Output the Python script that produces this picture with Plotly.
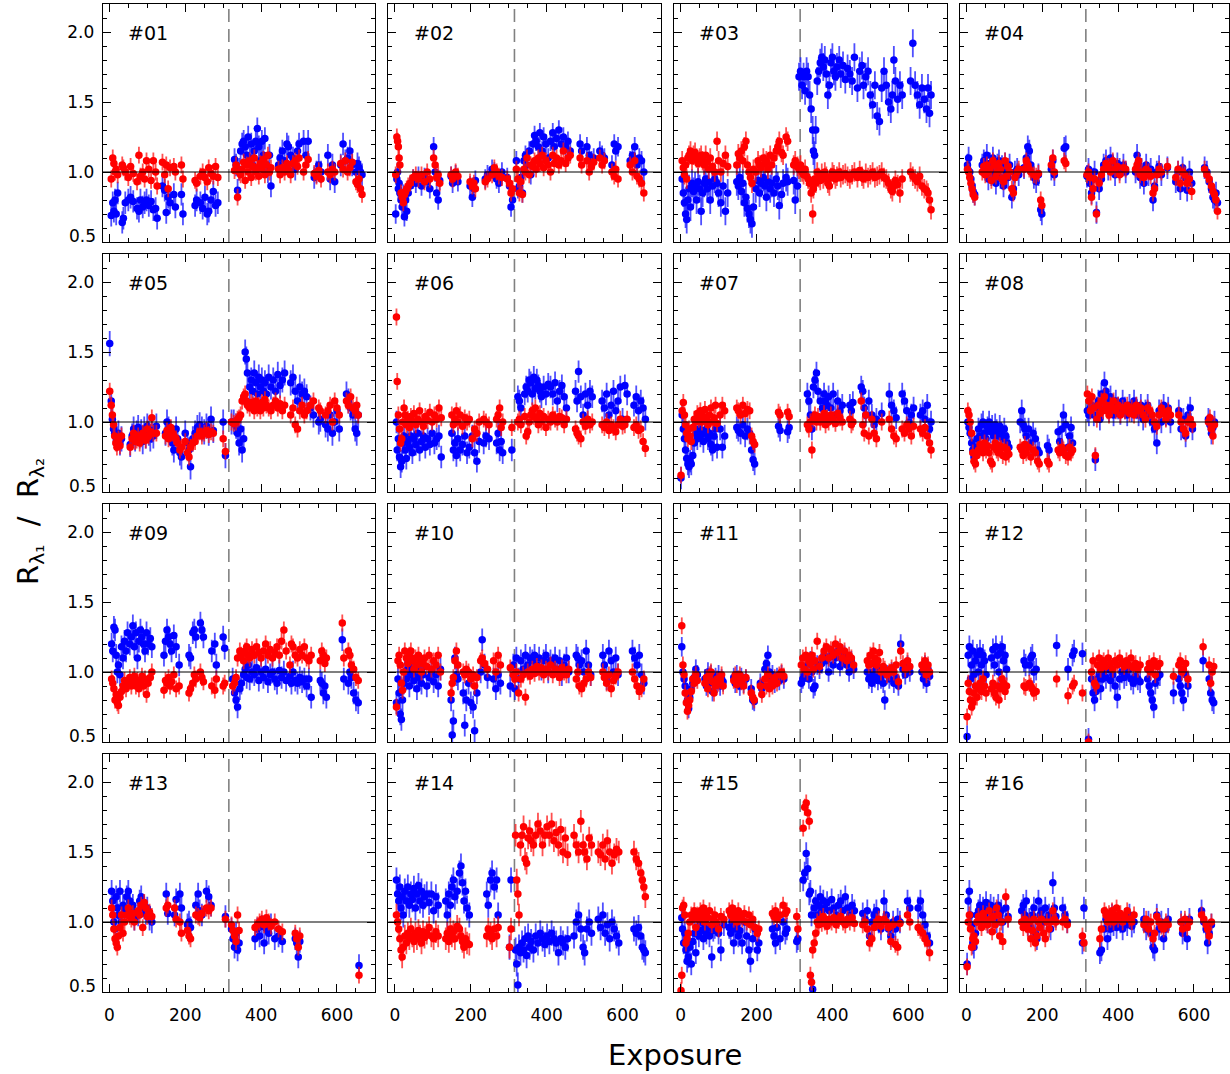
import plotly.graph_objects as go

# ---------------- data (exposure index, blue ratio, red ratio) ----------------
x01 = [5,9,12,15,18,22,34,37,42,50,56,63,73,78,82,88,93,98,104,110,116,122,126,140,146,150,155,160,170,174,190,194,226,230,240,246,252,258,262,268,274,280,286,
       330,334,338,342,346,350,354,358,362,366,370,374,378,382,386,390,394,398,402,406,410,414,418,422,426,
       446,450,456,462,468,472,478,484,490,496,500,512,518,524,540,546,552,558,576,582,588,594,610,616,622,628,634,640,650,654,658,662,666]
b01 = [0.69,0.78,0.72,0.80,0.70,0.85,0.64,0.67,0.78,0.80,0.82,0.79,0.74,0.72,0.80,0.75,0.78,0.80,0.76,0.79,0.73,0.74,0.67,0.90,0.87,0.71,0.82,0.78,0.84,0.75,0.84,0.70,0.76,0.80,0.78,0.74,0.82,0.70,0.72,0.80,0.86,0.76,0.78,
       1.09,1.05,0.87,1.02,1.15,1.20,1.22,1.18,1.12,1.25,1.10,1.20,1.05,1.15,1.22,1.31,1.18,1.08,1.22,1.12,1.24,1.05,1.00,1.12,0.90,
       1.05,1.10,1.15,1.08,1.20,1.18,1.12,1.10,1.02,1.15,1.20,1.22,1.12,1.22,0.96,1.00,1.05,1.00,1.12,0.95,1.05,0.93,1.05,1.20,1.08,1.10,1.15,1.05,1.00,1.06,1.03,1.00,0.98]
r01 = [0.95,1.10,1.06,1.00,1.02,0.98,1.05,1.03,1.00,0.96,1.04,0.99,0.93,1.12,0.97,1.00,0.95,1.08,1.02,0.94,1.08,1.00,0.90,1.07,0.98,1.05,0.88,1.03,1.04,1.00,1.05,0.95,0.94,0.92,0.97,1.00,0.96,0.93,1.03,0.99,0.97,1.04,0.96,
       1.01,1.05,0.82,1.00,0.98,1.02,1.07,0.94,1.05,1.00,1.08,0.96,1.04,1.10,1.00,1.03,0.97,1.06,1.02,1.09,0.98,1.05,1.12,1.00,1.03,
       1.02,0.98,1.03,1.00,1.06,1.02,0.98,1.06,1.08,1.04,1.10,1.00,1.05,1.09,0.99,0.97,1.01,0.95,1.00,0.98,1.02,1.00,1.06,1.02,1.08,1.00,1.03,1.07,0.93,0.91,0.95,0.88,0.84]

x02 = [2,5,7,9,11,13,16,19,22,25,28,31,35,40,48,55,62,70,78,85,92,102,106,110,114,118,148,152,160,166,198,204,208,212,238,244,256,262,268,274,282,296,302,306,310,
       320,324,328,332,336,340,344,348,354,358,364,368,372,378,382,388,392,398,404,410,416,420,426,432,438,444,450,456,462,488,492,506,512,518,524,540,546,552,572,578,582,588,620,626,632,638,644,650,656]
b02 = [0.70,0.95,1.00,0.88,0.92,0.85,0.80,0.75,0.84,0.68,0.80,0.72,0.85,0.90,0.95,0.92,0.97,0.90,0.96,0.93,0.88,1.18,1.00,0.85,0.80,0.94,0.97,0.92,0.98,0.93,0.90,0.82,0.88,0.94,0.95,0.98,1.02,1.00,0.95,0.92,1.00,0.96,0.90,0.75,0.80,
       1.08,0.88,0.90,0.96,0.85,1.08,1.12,1.05,1.15,0.98,1.20,1.26,1.22,1.18,1.28,1.15,1.25,1.20,1.10,1.22,1.28,1.18,1.24,1.30,1.20,1.25,1.18,1.22,1.15,1.20,1.15,1.18,1.12,1.08,1.10,1.15,1.12,1.10,1.05,1.20,1.15,1.18,1.08,1.12,1.18,1.05,1.10,1.08,1.00]
r02 = [0.98,1.25,1.22,1.18,1.10,1.05,0.85,0.82,0.78,0.84,0.86,0.88,0.90,0.92,0.96,0.98,0.95,0.98,0.93,1.00,0.95,1.10,1.05,0.96,0.98,0.92,0.98,0.95,1.00,0.97,0.93,0.90,0.92,0.88,0.93,0.95,0.98,1.03,1.00,0.97,0.96,0.95,0.92,0.85,0.88,
       1.02,0.95,0.85,0.93,0.84,1.02,1.00,1.10,0.98,1.05,1.04,1.08,1.02,1.10,1.06,1.12,1.03,1.08,1.05,1.00,1.12,1.06,1.10,1.05,1.08,1.15,1.06,1.10,1.12,1.10,1.05,1.08,1.00,1.04,1.07,1.10,1.05,1.08,1.00,0.97,1.02,0.95,1.05,1.00,1.08,0.97,0.95,0.92,0.85]

x03 = [4,7,10,13,16,19,22,26,30,34,38,42,46,50,54,58,62,66,70,74,78,84,90,96,100,106,112,118,124,148,152,156,160,164,168,172,176,180,184,188,192,198,204,208,212,218,222,226,230,236,240,246,252,256,260,266,270,278,282,298,302,308,
       312,316,320,324,328,332,336,340,344,348,350,353,356,360,364,368,372,376,380,384,388,392,396,400,404,408,412,418,422,428,434,440,446,452,458,466,472,478,482,488,494,500,506,512,518,524,530,536,542,548,554,558,562,566,572,578,584,606,612,618,624,630,636,642,648,652,656,660]
b03 = [0.95,0.85,0.78,0.70,0.66,0.80,0.88,0.75,0.92,0.86,0.90,0.80,0.93,0.88,0.72,0.85,0.92,0.95,0.88,0.93,0.80,0.90,0.95,0.92,0.85,0.78,0.90,0.72,0.85,0.93,0.90,0.96,0.86,0.92,0.78,0.82,0.74,0.70,0.66,0.63,0.75,0.88,0.94,0.85,0.92,0.96,0.90,0.82,0.93,0.88,0.92,0.85,0.95,0.90,0.76,0.84,0.92,0.96,0.93,0.94,0.80,0.90,
       1.68,1.72,1.62,1.68,1.58,1.72,1.68,1.55,1.45,1.30,1.15,1.12,1.30,1.65,1.72,1.78,1.82,1.75,1.80,1.70,1.55,1.62,1.78,1.82,1.72,1.68,1.75,1.80,1.70,1.76,1.66,1.74,1.70,1.65,1.82,1.60,1.72,1.76,1.62,1.68,1.72,1.55,1.48,1.62,1.40,1.36,1.60,1.72,1.62,1.50,1.45,1.55,1.80,1.65,1.52,1.62,1.55,1.65,1.92,1.62,1.55,1.48,1.60,1.52,1.45,1.60,1.42,1.55]
r03 = [1.08,1.03,0.98,1.05,0.95,1.10,1.12,1.15,1.08,1.12,1.14,1.10,1.06,1.10,1.12,1.08,1.05,1.12,1.07,1.02,1.10,1.04,1.00,1.22,1.08,1.00,1.06,1.12,1.04,1.05,1.13,1.10,1.15,1.08,1.18,1.22,1.05,1.00,0.96,0.92,1.02,1.00,1.08,1.05,1.03,1.10,1.06,1.08,1.02,1.12,1.05,1.10,1.15,1.18,1.22,1.14,1.12,1.25,1.22,1.05,1.08,1.04,
       1.02,1.05,1.00,0.98,1.02,0.97,0.95,0.92,0.85,0.70,0.88,0.95,0.92,1.00,0.96,0.94,0.99,0.95,1.00,0.97,0.92,0.90,0.96,1.00,0.98,0.95,0.97,1.00,0.96,0.98,0.99,0.97,0.95,0.98,1.00,0.96,1.01,0.97,0.95,0.99,0.96,0.98,1.00,0.96,0.97,0.98,1.00,0.96,0.95,0.92,0.88,0.86,0.90,0.94,0.91,0.85,0.95,1.00,0.97,0.95,0.93,0.97,0.90,0.88,0.87,0.85,0.80,0.73]

x04 = [3,6,9,12,15,18,22,42,46,50,54,58,62,66,70,74,78,82,86,90,94,98,102,106,110,114,120,124,128,134,138,152,158,162,166,170,178,184,190,196,199,224,228,232,258,262,
       318,322,326,330,334,338,343,350,356,362,368,374,380,386,392,398,404,414,420,446,450,454,458,462,468,474,480,486,492,496,502,508,514,530,552,558,564,570,576,582,588,594,628,634,640,646,650,654,658,662]
b04 = [1.05,1.10,1.00,0.95,0.90,0.86,0.84,1.05,1.08,1.02,1.12,0.95,1.06,0.98,1.10,1.02,0.92,1.05,1.08,0.96,1.04,0.90,1.06,1.00,0.96,1.05,0.82,0.88,1.00,1.02,0.98,1.03,1.10,1.18,1.15,1.05,0.96,0.93,0.98,0.73,0.70,1.02,1.08,0.98,1.17,1.18,
       0.97,1.02,0.92,0.85,0.95,1.00,0.71,0.88,0.95,1.05,1.08,1.02,1.10,1.05,0.98,1.06,1.02,1.05,1.00,1.00,1.12,1.05,0.96,1.02,0.92,1.05,0.98,1.02,0.80,0.90,1.00,1.04,0.98,1.03,0.93,1.00,0.88,1.03,0.96,0.87,1.00,0.92,1.03,1.00,0.93,0.88,0.82,0.80,0.85,0.78]
r04 = [1.02,1.00,0.96,0.92,0.88,0.84,0.82,1.00,1.04,0.98,1.05,1.00,1.02,0.94,1.08,1.05,0.97,1.00,1.06,1.02,0.95,0.93,1.08,0.97,1.04,1.00,0.88,0.85,0.96,1.00,1.02,1.02,1.08,1.05,1.02,1.00,0.98,0.97,0.99,0.80,0.76,1.05,1.10,1.00,1.08,1.06,
       0.98,1.00,0.96,0.82,0.88,0.95,0.70,0.92,0.98,1.02,1.06,1.04,1.00,1.08,1.02,1.04,0.98,1.03,1.02,1.02,1.05,1.08,0.98,1.00,0.96,1.02,1.00,0.97,0.85,0.88,0.98,1.02,1.00,1.04,0.96,1.02,0.92,1.00,0.98,0.92,0.95,0.86,1.02,0.98,0.95,0.90,0.86,0.84,0.80,0.72]

x05 = [1,5,8,11,14,17,20,24,28,32,55,60,64,68,72,76,80,84,88,92,96,100,104,108,112,116,124,148,152,156,162,166,170,176,180,186,190,200,206,210,214,220,226,232,238,244,250,256,262,268,274,300,306,
       322,328,334,338,342,346,350,354,358,361,364,370,374,378,382,386,390,394,398,402,406,410,414,420,426,432,438,444,450,456,462,478,484,490,496,502,508,514,520,530,538,552,556,570,576,582,588,594,600,606,625,630,636,642,648,652,656]
b05 = [1.56,1.15,1.02,0.95,0.92,0.90,0.88,0.92,0.85,0.88,0.84,0.90,0.95,0.88,0.92,0.96,0.90,0.93,0.86,0.95,0.90,0.97,0.92,0.88,0.94,0.90,0.97,0.92,1.00,0.95,0.92,0.85,0.80,0.95,0.88,0.78,0.75,0.92,0.85,0.80,0.68,0.88,0.92,0.96,0.98,0.95,0.93,0.97,0.92,1.02,0.94,1.00,0.76,
       1.00,1.00,0.97,0.92,0.85,0.95,0.80,0.88,1.50,1.45,1.35,1.25,1.30,1.22,1.35,1.28,1.20,1.32,1.25,1.30,1.22,1.28,1.20,1.32,1.25,1.30,1.22,1.34,1.26,1.30,1.35,1.28,1.32,1.22,1.15,1.25,1.20,1.22,1.18,1.10,1.05,1.00,1.02,0.98,0.95,1.05,0.92,1.00,1.08,0.95,1.20,1.15,1.10,1.05,0.95,0.92,1.05]
r05 = [1.22,1.12,1.05,0.98,0.90,0.85,0.82,0.88,0.83,0.90,0.82,0.88,0.92,0.86,0.87,0.90,0.85,0.88,0.92,0.90,0.87,0.95,0.90,0.93,1.03,0.92,0.92,0.90,0.94,0.88,0.96,0.92,0.90,0.88,0.85,0.80,0.82,0.86,0.78,0.75,0.82,0.85,0.86,0.90,0.93,0.90,0.92,0.94,0.91,0.93,0.92,0.88,0.79,
       1.00,0.99,1.00,1.02,1.03,1.05,1.15,1.18,1.20,1.15,1.12,1.10,1.14,1.12,1.08,1.15,1.10,1.12,1.08,1.14,1.10,1.16,1.12,1.10,1.08,1.12,1.15,1.10,1.13,1.08,1.12,1.05,1.10,0.98,0.95,1.08,1.12,1.05,1.08,1.12,1.15,1.10,1.08,1.05,1.08,1.12,1.00,1.15,1.10,1.05,1.15,1.12,1.18,1.10,1.08,1.12,1.05]

x06 = [4,6,9,12,15,18,21,24,27,30,34,38,42,46,50,55,60,65,70,75,80,86,92,98,104,110,116,122,150,154,158,162,166,172,178,184,190,196,204,210,216,222,234,240,248,268,272,276,280,284,308,
       324,328,332,342,346,350,354,358,362,366,370,374,378,382,386,392,398,404,410,416,422,428,434,440,446,452,476,480,484,490,496,502,508,514,520,546,552,558,564,570,576,582,588,594,600,606,612,630,636,642,648,654,660]
b06 = [1.00,0.80,0.88,0.75,0.68,0.72,0.85,0.90,0.80,0.74,0.86,0.82,0.90,0.78,0.88,0.84,0.92,0.80,0.86,0.90,0.82,0.88,0.84,0.92,0.85,0.88,0.90,0.75,0.92,0.80,0.85,0.76,0.88,0.80,0.84,0.90,0.78,0.82,0.90,0.78,0.72,0.86,0.85,0.90,0.88,0.85,0.92,0.80,0.86,0.78,0.80,
       1.18,1.15,1.10,1.20,1.25,1.22,1.30,1.28,1.20,1.32,1.24,1.30,1.26,1.22,1.18,1.25,1.20,1.27,1.25,1.20,1.28,1.15,1.22,1.26,1.18,1.10,1.22,1.15,1.36,1.18,1.05,1.20,1.12,1.22,1.18,1.15,1.10,1.20,1.05,1.12,1.22,1.08,1.15,1.25,1.02,1.26,1.20,1.12,1.18,1.08,1.15,1.10,1.02]
r06 = [1.75,1.29,1.05,0.95,0.85,0.88,1.00,1.10,1.05,0.98,1.02,0.96,1.04,1.00,1.06,0.98,1.02,1.08,1.00,0.97,1.04,1.01,1.07,1.00,1.05,1.02,1.10,1.03,1.05,0.98,1.02,1.08,1.00,1.05,0.97,1.03,1.00,1.02,0.88,0.95,0.92,1.00,1.02,1.00,0.98,1.02,1.05,1.10,0.96,1.00,0.96,
       1.00,1.02,0.98,1.04,0.90,0.93,1.00,1.05,1.08,1.04,1.10,1.02,0.98,1.06,1.00,1.04,0.96,1.02,1.00,1.05,1.02,1.00,1.04,1.03,0.98,1.02,0.95,0.92,0.90,0.88,1.00,0.97,1.02,0.98,1.00,0.98,0.96,1.00,0.94,0.98,0.96,0.93,0.98,1.02,0.97,0.98,1.02,0.96,0.98,0.94,0.95,0.86,0.81]

x07 = [1,4,7,10,13,16,19,22,25,28,32,36,40,44,48,52,56,60,64,68,72,76,80,84,88,92,96,104,110,116,148,152,158,164,170,176,182,187,191,195,258,262,282,286,
       334,338,342,346,350,354,358,362,368,374,378,382,386,390,396,402,408,414,420,426,446,450,454,476,480,484,488,496,504,510,516,530,550,556,562,568,584,590,596,602,608,614,632,638,644,650,656,660]
b07 = [0.60,1.05,0.95,0.88,0.80,0.74,0.70,0.68,0.72,0.70,0.76,0.85,0.92,0.88,0.95,0.90,0.94,0.86,0.92,0.95,0.88,0.92,0.84,0.80,0.90,0.95,0.82,0.95,0.82,0.90,0.96,0.94,0.92,0.98,0.90,0.95,0.92,0.80,0.73,0.70,0.97,0.94,0.93,0.96,
       1.20,1.15,1.05,0.95,1.25,1.30,1.35,1.22,1.15,1.10,1.20,1.15,1.12,1.18,1.10,1.20,1.05,1.15,1.08,1.12,1.12,1.08,1.14,1.25,1.22,1.10,1.05,1.15,1.05,0.98,1.02,1.06,1.20,1.12,1.08,1.03,1.20,1.15,1.08,1.00,1.05,1.10,1.05,1.08,1.02,1.12,0.95,1.00]
r07 = [0.62,1.08,1.14,1.05,0.98,0.92,0.88,0.95,0.90,0.86,0.96,1.02,1.00,1.06,1.02,1.08,1.00,1.04,1.09,1.02,0.98,1.05,1.10,1.00,1.03,1.12,0.99,1.05,1.12,1.08,1.10,1.08,1.05,1.12,1.06,1.09,1.08,0.90,0.86,0.84,1.07,1.05,1.07,1.04,
       0.98,0.95,1.00,0.80,1.02,1.05,1.00,1.04,1.00,1.02,1.06,0.98,1.03,1.00,1.05,1.02,0.99,1.06,1.03,1.00,1.02,0.98,1.00,1.15,0.98,0.92,1.05,0.90,1.02,0.92,0.88,1.00,1.02,0.95,0.90,0.88,0.95,0.92,0.98,0.95,0.90,0.97,0.95,0.92,0.96,0.90,0.85,0.80]

x08 = [4,7,10,14,17,20,24,28,32,36,40,44,48,52,56,60,64,68,72,76,80,84,88,92,96,100,104,108,112,142,146,150,154,158,164,170,176,182,188,192,214,218,242,246,252,256,262,268,272,276,280,
       319,323,327,331,336,340,344,348,352,356,360,364,368,372,376,380,384,388,394,400,406,412,418,424,430,436,442,448,454,460,466,472,478,484,490,496,502,508,514,520,526,532,538,560,566,572,578,584,590,596,638,642,646,650,654]
b08 = [1.00,0.96,0.92,0.85,0.80,0.75,0.82,0.88,0.95,0.90,0.98,1.00,0.92,0.88,0.96,1.00,0.93,0.97,0.90,0.98,0.94,0.90,0.97,0.92,0.88,0.95,0.90,0.85,0.82,1.00,1.08,0.98,0.95,0.90,0.95,0.85,0.92,0.88,0.80,0.78,0.83,0.80,0.93,0.86,0.95,1.05,0.98,0.82,0.90,0.96,0.85,
       1.08,1.05,1.10,1.12,1.05,0.73,1.10,1.15,1.02,1.20,1.10,1.28,1.22,1.15,1.08,1.18,1.12,1.05,1.15,1.10,1.06,1.15,1.10,1.05,1.12,1.08,1.15,1.10,1.05,1.12,1.02,1.08,1.12,1.05,1.00,0.95,0.85,1.08,1.00,1.12,1.05,1.10,1.00,1.08,0.95,1.02,0.90,1.05,1.10,0.95,1.02,0.98,0.92,0.96,1.00]
r08 = [1.08,1.05,1.00,0.92,0.78,0.72,0.70,0.76,0.80,0.84,0.82,0.78,0.85,0.80,0.83,0.78,0.72,0.70,0.82,0.85,0.80,0.78,0.83,0.81,0.76,0.82,0.75,0.80,0.77,0.82,0.80,0.76,0.84,0.78,0.82,0.75,0.80,0.78,0.72,0.70,0.72,0.70,0.80,0.78,0.82,0.80,0.76,0.75,0.82,0.78,0.80,
       1.20,1.15,1.08,1.18,1.10,0.76,1.02,1.12,1.06,1.15,1.08,1.18,1.12,1.08,1.05,1.12,1.10,1.15,1.08,1.12,1.05,1.10,1.08,1.12,1.06,1.10,1.05,1.12,1.08,1.10,1.05,1.02,1.10,1.08,1.05,1.00,0.97,1.05,1.10,1.06,1.02,1.08,1.05,1.05,1.00,0.95,0.92,1.00,1.02,0.98,1.00,1.03,0.95,0.90,0.98]

x09 = [6,9,12,15,18,21,24,28,32,36,40,44,48,54,58,62,66,70,74,78,82,86,90,94,98,102,108,112,144,148,152,156,160,164,170,176,184,210,214,220,224,228,240,244,248,270,278,282,300,304,
       325,330,334,338,344,348,354,358,362,366,370,376,382,388,394,400,406,412,418,424,430,436,442,448,454,460,466,476,480,484,490,496,502,508,514,520,526,532,556,560,564,568,572,614,618,630,634,638,644,650,656]
b09 = [1.20,1.15,1.32,1.30,1.12,1.00,1.05,0.98,1.18,1.10,1.22,1.15,1.28,1.20,1.25,1.33,1.18,1.28,1.10,1.22,1.30,1.25,1.20,1.15,1.28,1.20,1.24,1.18,1.12,1.22,1.30,1.25,1.20,1.15,1.26,1.18,1.05,1.12,1.10,1.28,1.30,1.25,1.35,1.30,1.25,1.15,1.20,1.05,1.25,1.17,
       0.95,0.85,0.80,0.75,0.88,0.92,0.98,1.02,0.96,1.05,0.95,1.00,0.98,1.03,0.94,1.00,0.96,1.02,0.93,0.98,1.00,0.95,0.92,1.01,0.96,1.00,0.94,0.97,0.92,1.00,0.94,0.92,0.96,0.93,0.95,0.90,0.95,0.82,0.94,0.92,0.85,0.90,0.82,1.23,0.95,0.92,1.00,0.96,0.85,0.80,0.78]
r09 = [0.95,0.92,0.88,0.80,0.84,0.78,0.76,0.82,0.86,0.90,0.94,0.88,0.92,0.96,0.90,0.94,0.97,0.90,0.94,0.88,0.93,0.97,0.90,0.95,0.84,0.92,0.96,1.00,0.87,0.94,0.92,0.96,0.90,0.93,0.98,0.88,0.90,0.85,0.88,0.92,0.98,0.95,1.00,0.96,0.93,0.90,0.87,0.95,0.90,0.92,
       0.90,0.92,0.96,1.10,1.15,1.12,1.08,1.15,1.18,1.12,1.10,1.16,1.12,1.18,1.14,1.10,1.15,1.20,1.12,1.16,1.10,1.14,1.18,1.12,1.22,1.30,1.15,1.05,1.20,1.18,1.12,1.10,1.16,1.12,1.18,1.10,1.08,1.12,1.08,1.15,1.12,1.06,1.10,1.35,1.10,1.15,1.12,1.05,1.02,0.96,0.94]

x10 = [4,8,11,14,17,20,23,26,30,34,38,42,46,50,54,58,62,66,70,74,78,84,90,96,102,108,114,120,148,151,154,158,162,166,180,184,188,194,200,206,210,216,226,230,236,244,260,266,272,278,304,
       312,316,320,326,332,338,344,350,356,362,368,374,380,386,392,398,404,410,416,422,428,434,440,446,452,458,478,482,486,492,498,504,510,516,548,552,558,564,570,576,582,588,626,632,638,644,650,656]
b10 = [0.78,0.95,0.85,0.70,0.66,0.80,0.92,1.00,0.95,1.02,0.90,0.98,1.05,0.94,1.00,0.88,0.96,1.02,0.92,0.98,1.04,0.90,0.96,1.00,0.93,0.98,0.90,1.02,0.80,0.55,0.65,1.10,0.98,0.95,0.85,0.62,0.80,0.92,0.78,0.75,0.58,0.85,1.00,1.23,1.05,0.96,0.95,0.88,0.98,0.92,0.90,
       1.05,0.88,1.10,0.95,1.08,1.02,1.12,1.05,1.10,1.08,1.12,1.05,1.10,1.02,1.08,1.12,1.00,1.08,1.05,1.10,1.02,1.08,0.98,1.05,1.10,1.00,1.12,1.10,1.05,1.08,1.00,1.15,1.05,0.98,1.12,1.05,0.95,1.15,1.08,1.00,1.10,0.98,1.15,1.10,1.05,1.12,0.98,0.92]
r10 = [0.75,1.08,1.12,1.05,0.92,0.87,1.00,1.15,1.10,1.06,1.12,1.15,1.08,1.02,1.10,1.05,1.12,1.08,1.00,1.06,1.10,1.04,1.12,1.02,1.08,1.05,1.12,1.00,0.85,0.92,0.96,1.08,1.15,1.05,1.00,0.98,1.02,1.00,0.95,0.98,0.90,0.96,1.08,1.10,1.06,1.02,1.08,1.00,1.12,1.05,1.03,
       0.98,0.95,1.00,0.85,0.95,0.98,0.82,1.00,0.97,1.02,0.99,1.04,1.00,1.03,0.98,1.02,1.00,1.05,0.98,1.02,1.00,0.96,1.03,1.00,0.98,1.02,0.95,1.00,0.90,0.88,0.92,0.95,1.00,0.96,1.00,0.96,0.92,0.98,0.88,0.94,0.97,1.00,1.00,0.95,0.90,0.86,0.88,0.95]

x11 = [3,6,9,12,15,18,21,24,28,32,36,40,44,64,68,72,76,80,84,88,92,96,100,104,108,112,140,144,148,152,156,160,166,172,186,190,194,210,214,222,226,230,234,238,242,248,254,260,266,272,
       318,322,326,330,334,338,342,346,350,354,360,366,372,378,384,390,396,402,408,414,420,426,432,438,444,450,456,492,496,500,504,508,512,516,520,524,528,534,538,544,550,556,562,568,574,580,586,592,598,604,636,640,644,648,652,656]
b11 = [1.18,1.00,0.95,0.90,0.85,0.80,0.74,0.82,0.88,0.92,0.96,1.02,0.98,0.95,0.90,1.00,0.92,0.98,0.86,0.94,0.96,0.92,0.98,0.90,0.95,0.93,0.96,0.92,0.98,0.94,0.90,0.96,0.92,0.95,0.88,0.80,0.79,0.92,0.88,1.02,1.06,1.12,1.00,0.95,0.98,0.92,0.96,0.94,0.98,0.95,
       0.92,0.95,0.98,1.00,1.05,0.95,1.08,1.00,0.88,0.90,1.05,1.02,1.06,1.12,1.08,1.00,1.12,1.05,1.10,1.15,1.04,1.08,1.12,1.05,1.00,1.08,1.02,1.00,0.95,0.98,0.92,1.00,0.96,1.02,0.94,0.98,0.95,0.92,0.80,0.98,0.95,1.00,0.92,0.96,0.90,1.20,1.02,0.98,1.05,1.00,1.00,0.95,1.05,0.92,1.02,0.97]
r11 = [1.33,1.05,0.98,0.85,0.78,0.72,0.76,0.80,0.86,0.95,0.92,0.98,0.94,0.92,0.96,0.88,0.98,1.00,0.93,0.85,0.90,0.95,0.92,0.94,0.98,0.90,0.94,0.98,0.91,0.95,0.98,0.93,0.90,0.96,0.85,0.82,0.80,0.90,0.84,0.95,0.90,0.98,0.88,0.93,0.90,0.96,0.92,0.98,1.00,0.97,
       1.05,1.10,1.02,1.12,1.00,1.08,1.06,1.12,1.02,1.08,1.22,1.04,1.10,1.15,1.18,1.10,1.16,1.12,1.20,1.14,1.18,1.10,1.15,1.08,1.12,1.10,1.05,1.08,1.05,1.12,1.06,1.15,1.10,1.05,1.08,1.14,1.00,1.04,1.02,0.98,1.00,1.03,1.00,1.05,0.93,1.15,1.06,1.02,1.08,1.04,1.05,1.02,1.08,0.98,1.05,1.00]

x12 = [2,5,8,11,14,17,20,24,28,32,36,40,44,48,52,66,70,74,78,82,86,90,94,98,102,106,152,156,166,170,174,178,184,238,268,280,284,306,
       322,330,334,338,342,346,350,354,358,362,368,374,380,386,392,398,404,410,416,422,428,434,440,446,452,458,478,482,486,490,494,498,504,510,546,560,564,568,572,578,584,624,640,644,648,652]
b12 = [0.54,1.12,1.18,0.95,1.05,1.15,0.98,1.08,1.12,1.00,1.15,1.05,1.12,1.08,0.98,1.10,1.16,1.05,1.18,1.12,1.00,1.14,1.18,1.08,1.12,1.02,1.08,1.05,1.05,1.10,1.12,1.00,1.02,1.19,1.02,1.12,1.15,1.13,
       0.52,0.95,0.85,0.80,0.86,0.95,0.98,0.88,0.95,1.00,0.96,1.02,0.94,0.98,0.90,0.82,0.95,1.00,0.96,0.98,1.02,0.95,0.92,0.97,0.95,0.93,0.95,0.90,0.85,0.80,0.75,0.92,0.96,0.98,0.85,0.95,0.90,0.85,0.80,0.98,0.90,1.08,0.95,0.85,0.80,0.78]
r12 = [0.68,0.92,0.86,0.80,0.75,0.78,0.85,0.90,0.82,0.88,0.92,0.86,0.95,0.90,0.85,0.88,0.92,0.85,0.82,0.90,0.80,0.88,0.95,0.92,0.86,0.90,0.90,0.89,0.92,0.90,0.88,0.85,0.86,0.95,0.83,0.90,0.92,0.85,
       0.50,1.00,1.08,0.92,0.90,1.05,1.10,1.02,1.06,1.08,1.04,1.10,1.06,1.02,1.08,1.05,1.10,1.06,1.04,1.08,1.05,1.10,1.03,1.06,1.02,1.05,1.02,1.06,1.00,1.04,1.08,0.98,1.04,1.06,0.97,1.05,1.08,1.00,1.02,1.06,0.95,1.18,1.05,0.92,1.00,1.04]

x13 = [6,9,12,15,18,21,24,28,32,36,40,46,50,54,58,62,66,76,80,84,88,92,96,100,106,112,150,154,172,176,186,190,206,210,214,228,234,238,244,256,262,268,306,
       322,326,330,334,338,342,384,390,396,402,408,414,420,426,436,446,456,490,494,498,502,658]
b13 = [1.22,1.15,1.00,0.95,1.18,1.10,1.05,1.22,1.00,1.12,1.08,1.18,1.22,1.15,1.08,1.12,1.02,1.05,1.15,1.18,1.12,1.10,1.06,1.10,1.02,1.00,1.20,1.06,1.05,1.16,1.20,1.10,0.98,1.00,0.96,1.12,1.20,1.08,1.05,1.22,1.18,1.12,1.04,
       0.95,0.88,0.82,0.92,0.80,0.85,0.88,0.95,0.90,0.97,0.85,0.95,0.92,0.98,0.88,0.90,0.86,0.88,0.85,0.75,0.86,0.69]
r13 = [1.10,1.05,0.95,0.88,0.85,0.82,0.90,0.96,1.05,0.92,1.00,1.05,1.10,1.04,1.02,1.06,1.00,1.08,1.05,1.12,0.96,1.14,1.10,1.04,1.07,1.04,1.10,1.12,1.10,1.02,1.00,0.92,0.94,0.90,0.88,1.05,1.04,1.03,1.06,1.10,1.08,1.10,1.02,
       0.98,0.94,0.90,0.86,1.05,0.94,0.96,0.98,1.00,1.02,0.98,1.03,1.00,0.97,1.00,0.95,0.93,0.92,0.88,0.82,0.90,0.62]

x14 = [4,7,10,13,16,19,22,26,30,34,38,42,46,50,54,58,62,66,70,74,78,84,90,96,102,108,114,134,138,142,146,150,154,158,164,170,174,178,182,186,190,196,242,246,252,256,262,268,272,302,306,
       318,321,324,327,331,335,339,343,347,351,355,359,365,371,377,383,389,395,401,407,413,419,425,431,437,443,449,455,472,478,484,490,496,500,506,512,518,536,542,548,554,560,566,572,578,584,590,630,636,642,648,652,656,660]
b14 = [1.30,1.20,1.15,1.25,1.10,1.18,1.05,1.22,1.15,1.25,1.12,1.20,1.16,1.24,1.10,1.20,1.26,1.15,1.22,1.12,1.18,1.20,1.14,1.20,1.08,1.18,1.12,1.15,1.05,1.20,1.12,1.25,1.30,1.18,1.22,1.35,1.40,1.28,1.15,1.22,1.10,1.05,1.20,1.12,1.30,1.35,1.25,1.30,1.05,0.82,1.30,
       0.80,0.70,0.55,0.82,0.78,0.85,0.80,0.88,0.76,0.90,0.82,0.86,0.80,0.90,0.85,0.92,0.88,0.84,0.90,0.86,0.92,0.88,0.85,0.78,0.88,0.85,0.82,0.88,0.90,1.00,1.05,0.95,0.82,0.78,0.95,1.00,0.92,1.02,0.96,1.05,0.92,0.98,0.88,1.00,0.95,0.90,0.85,0.95,0.92,0.96,0.90,0.82,0.80,0.78]
r14 = [1.05,1.00,0.95,0.88,0.80,0.75,0.82,0.90,0.85,0.92,0.88,0.95,0.90,0.86,0.92,0.88,0.94,0.90,0.85,0.93,0.89,0.92,0.96,0.90,0.88,0.93,0.90,0.88,0.92,0.86,0.95,0.90,0.93,0.88,0.97,0.95,0.90,0.86,0.82,0.88,0.85,0.84,0.90,0.95,0.92,0.88,0.95,0.90,0.96,0.82,0.95,
       1.62,1.30,1.20,1.05,1.55,1.62,1.68,1.45,1.42,1.60,1.65,1.58,1.55,1.62,1.70,1.65,1.55,1.62,1.68,1.62,1.70,1.58,1.64,1.55,1.66,1.50,1.60,1.48,1.62,1.55,1.50,1.72,1.55,1.50,1.45,1.60,1.55,1.50,1.48,1.55,1.45,1.58,1.50,1.42,1.48,1.52,1.50,1.50,1.45,1.42,1.35,1.30,1.25,1.18]

x15 = [1,3,5,8,11,14,17,20,24,28,32,36,40,44,48,52,56,60,64,68,72,76,82,86,90,94,100,106,114,128,132,136,140,144,148,152,156,162,168,174,180,184,190,196,202,206,242,246,250,254,262,270,276,280,306,309,
       323,327,331,335,339,342,345,348,352,356,360,364,368,372,376,380,386,392,398,404,410,416,422,428,434,440,446,452,458,480,486,492,498,504,510,516,522,528,536,542,548,554,560,566,572,578,598,604,626,632,638,644,650,656]
b15 = [None,1.03,0.95,0.85,0.92,0.80,0.72,0.75,0.82,0.70,0.86,0.92,0.78,0.95,0.90,1.00,0.94,0.88,0.98,0.92,0.96,0.90,0.75,0.94,0.96,0.98,0.92,0.80,0.98,0.96,0.92,1.00,0.85,0.95,0.98,0.90,0.94,0.85,1.00,0.90,0.80,0.72,0.88,0.95,0.80,0.85,0.95,0.90,0.85,0.96,0.88,1.00,0.92,0.95,0.86,0.88,
       1.30,1.35,1.49,1.38,1.20,1.22,1.05,0.52,1.10,1.15,1.05,1.12,1.18,1.08,1.15,1.10,1.14,1.08,1.16,1.10,1.05,1.12,1.15,1.08,1.18,1.10,1.05,1.12,1.08,1.06,1.02,1.08,0.90,1.00,1.05,1.08,1.00,0.95,1.15,1.05,0.95,0.90,1.00,0.95,1.02,1.00,1.15,1.10,1.10,1.15,1.05,0.98,0.90,0.85]
r15 = [0.51,0.62,1.10,1.12,1.05,0.85,0.88,0.92,1.00,1.05,1.02,1.08,0.96,1.05,1.02,1.08,1.04,1.10,1.00,1.06,1.03,1.08,0.98,1.02,1.05,1.00,0.95,1.04,1.02,1.08,1.05,1.10,1.02,1.06,1.00,1.08,1.04,1.02,1.06,1.00,1.05,0.98,1.02,0.96,0.92,0.95,1.06,1.04,1.08,1.02,1.05,1.12,1.06,1.08,1.04,0.95,
       1.67,1.82,1.85,1.78,1.72,0.62,0.57,0.80,0.85,0.92,1.00,0.98,1.02,0.99,1.04,1.00,0.97,1.02,1.00,1.03,0.98,1.01,1.04,1.00,0.98,1.02,1.00,1.03,0.99,0.98,1.00,0.95,0.85,0.88,0.96,1.00,1.02,0.97,1.02,1.00,0.96,0.86,0.98,0.84,0.82,0.99,1.05,1.00,0.96,0.94,0.92,0.88,0.85,0.78]

x16 = [2,5,8,11,14,17,20,24,28,32,36,40,44,48,52,56,60,64,68,72,76,80,84,88,92,96,104,110,146,150,154,158,162,166,170,174,178,182,186,190,194,198,204,208,212,218,222,228,232,236,254,260,266,306,310,
       352,356,364,368,372,376,380,384,388,392,396,400,406,412,418,424,430,436,442,468,474,480,486,492,496,502,508,514,520,526,532,566,570,576,582,588,620,626,632,636,640,646]
b16 = [0.70,1.15,1.22,1.05,0.98,0.85,0.82,0.92,1.05,1.08,1.12,1.02,1.10,1.05,1.14,1.00,1.08,1.12,1.03,1.10,1.06,1.00,1.12,1.05,1.08,1.00,1.10,1.04,1.08,1.12,1.05,1.15,0.98,1.02,0.96,1.05,1.10,0.92,0.88,1.15,1.05,1.08,1.00,1.10,1.02,1.05,0.95,1.28,1.10,1.04,1.10,1.05,1.00,0.85,1.10,
       0.78,0.80,0.95,1.02,0.88,1.00,0.95,1.05,0.98,1.02,0.96,1.04,1.00,0.95,1.02,0.98,1.05,0.97,1.00,1.02,0.95,1.00,0.92,0.82,0.80,1.05,0.95,1.00,0.88,0.95,1.02,1.00,0.92,0.98,0.88,1.02,1.08,1.00,0.95,0.85,0.92,0.98]
r16 = [0.68,1.00,1.05,0.95,0.82,0.88,0.90,0.86,1.00,1.04,1.00,0.96,1.06,1.02,1.00,0.98,1.08,1.02,0.93,1.04,0.98,1.10,1.05,0.90,1.00,0.86,1.18,1.02,1.00,0.96,1.02,0.98,0.95,1.00,0.88,0.94,1.02,0.85,0.90,1.00,0.96,1.02,0.92,0.88,1.00,0.95,1.00,1.08,1.02,1.00,1.00,1.02,0.98,0.90,0.85,
       0.88,0.95,1.08,1.05,1.00,1.06,1.02,1.08,1.00,1.05,1.10,1.02,1.06,1.00,1.04,1.08,1.02,1.00,1.05,0.98,1.02,0.95,1.00,0.88,0.92,1.04,1.00,0.97,0.95,1.00,0.98,1.00,0.95,1.02,0.96,1.00,1.05,1.02,0.98,0.95,0.90,1.00]

# per-panel error-bar half-lengths
err_blue = [0.08,0.07,0.10,0.08,0.09,0.08,0.08,0.08,0.08,0.08,0.07,0.08,0.08,0.09,0.08,0.08]
err_red = [0.06,0.06,0.07,0.06,0.06,0.06,0.06,0.06,0.06,0.06,0.06,0.06,0.06,0.08,0.06,0.06]

panel_labels = ["#01","#02","#03","#04","#05","#06","#07","#08",
                "#09","#10","#11","#12","#13","#14","#15","#16"]
split_exposure = 315
xtick_vals = [0, 200, 400, 600]
ytick_vals = [1.0, 1.5, 2.0]          # axis-labelled ticks
ytick_text = ["1.0", "1.5", "2.0"]
ybottom_label = "0.5"                 # bottom label, drawn slightly raised as in the original
ybottom_val = 0.5

XS = [x01,x02,x03,x04,x05,x06,x07,x08,x09,x10,x11,x12,x13,x14,x15,x16]
BS = [b01,b02,b03,b04,b05,b06,b07,b08,b09,b10,b11,b12,b13,b14,b15,b16]
RS = [r01,r02,r03,r04,r05,r06,r07,r08,r09,r10,r11,r12,r13,r14,r15,r16]

# ---------------- layout geometry (pixels) ----------------
W, H = 1230, 1074
COL_L = [102.7, 388.3, 674.0, 959.7]
COL_W = [272.6, 272.6, 272.6, 269.3]
ROW_T = [4, 254, 504, 754]
ROW_H = 238
X0 = -17.5
PX_PER_UNIT = 272.6 / 718.5

FONT = "DejaVu Sans, sans-serif"

fig = go.Figure()
layout_axes = {}
shapes = []
annotations = []

for i in range(16):
    row, col = divmod(i, 4)
    s = "" if i == 0 else str(i + 1)
    xa, ya = "x" + s, "y" + s
    n = min(len(XS[i]), len(BS[i]), len(RS[i]))
    for vals, mcol, ecol, e in ((BS[i], "rgb(0,0,255)", "rgba(20,20,255,0.75)", err_blue[i]),
                                (RS[i], "rgb(255,0,0)", "rgba(255,20,20,0.75)", err_red[i])):
        fig.add_trace(go.Scatter(
            x=XS[i][:n], y=vals[:n], mode="markers", xaxis=xa, yaxis=ya,
            marker=dict(color=mcol, size=7.5, line=dict(width=0)),
            error_y=dict(type="constant", value=e, color=ecol, thickness=1.8, width=0),
            showlegend=False, hoverinfo="skip"))

    left, width = COL_L[col], COL_W[col]
    top = ROW_T[row]
    x1 = X0 + width / PX_PER_UNIT
    common = dict(showline=True, linecolor="black", linewidth=1, mirror="allticks",
                  ticks="inside", tickcolor="black", tickwidth=1, showgrid=False, zeroline=False,
                  tickfont=dict(family=FONT, size=17, color="black"))
    layout_axes["xaxis" + s] = dict(
        domain=[left / W, (left + width) / W], range=[X0, x1], anchor=ya,
        tickmode="array", tickvals=xtick_vals, ticklen=8,
        minor=dict(ticks="inside", ticklen=4, tick0=0, dtick=50, tickcolor="black"),
        showticklabels=(row == 3), ticklabelstandoff=8, **common)
    layout_axes["yaxis" + s] = dict(
        domain=[1 - (top + ROW_H) / H, 1 - top / H], range=[0.5, 2.2], anchor=xa,
        tickmode="array", tickvals=ytick_vals, ticktext=ytick_text, ticklen=8,
        minor=dict(ticks="inside", ticklen=4, tick0=0.5, dtick=0.1, tickcolor="black"),
        showticklabels=(col == 0), ticklabelstandoff=4, **common)

    shapes.append(dict(type="line", xref=xa, yref=ya + " domain", x0=split_exposure, x1=split_exposure,
                       y0=0, y1=1, line=dict(color="rgb(128,128,128)", width=1.6, dash="13px,7px"),
                       layer="below"))
    shapes.append(dict(type="line", xref=xa + " domain", yref=ya, x0=0, x1=1, y0=1, y1=1,
                       line=dict(color="black", width=1.2), layer="above"))
    annotations.append(dict(text=panel_labels[i], xref=xa + " domain", yref=ya + " domain",
                            x=0.166, y=0.877, showarrow=False, xanchor="center", yanchor="middle",
                            font=dict(family=FONT, size=19, color="black")))
    if col == 0:
        annotations.append(dict(text=ybottom_label, xref="paper", yref=ya, x=(left - 5) / W, y=ybottom_val,
                                xanchor="right", yanchor="middle", yshift=6, showarrow=False,
                                font=dict(family=FONT, size=17, color="black")))

annotations.append(dict(text="Exposure", xref="paper", yref="paper", x=675 / W, y=1 - 1055 / H,
                        showarrow=False, xanchor="center", yanchor="middle",
                        font=dict(family=FONT, size=29, color="black")))
annotations.append(dict(text="R<sub>λ₁</sub>&nbsp;&nbsp;/&nbsp;&nbsp;R<sub>λ₂</sub>", xref="paper", yref="paper",
                        x=30 / W, y=1 - 522 / H, textangle=-90, showarrow=False,
                        xanchor="center", yanchor="middle",
                        font=dict(family=FONT, size=29, color="black")))

fig.update_layout(width=W, height=H, margin=dict(l=0, r=0, t=0, b=0),
                  paper_bgcolor="white", plot_bgcolor="white",
                  shapes=shapes, annotations=annotations, showlegend=False,
                  **layout_axes)

fig.write_html("out.html")
